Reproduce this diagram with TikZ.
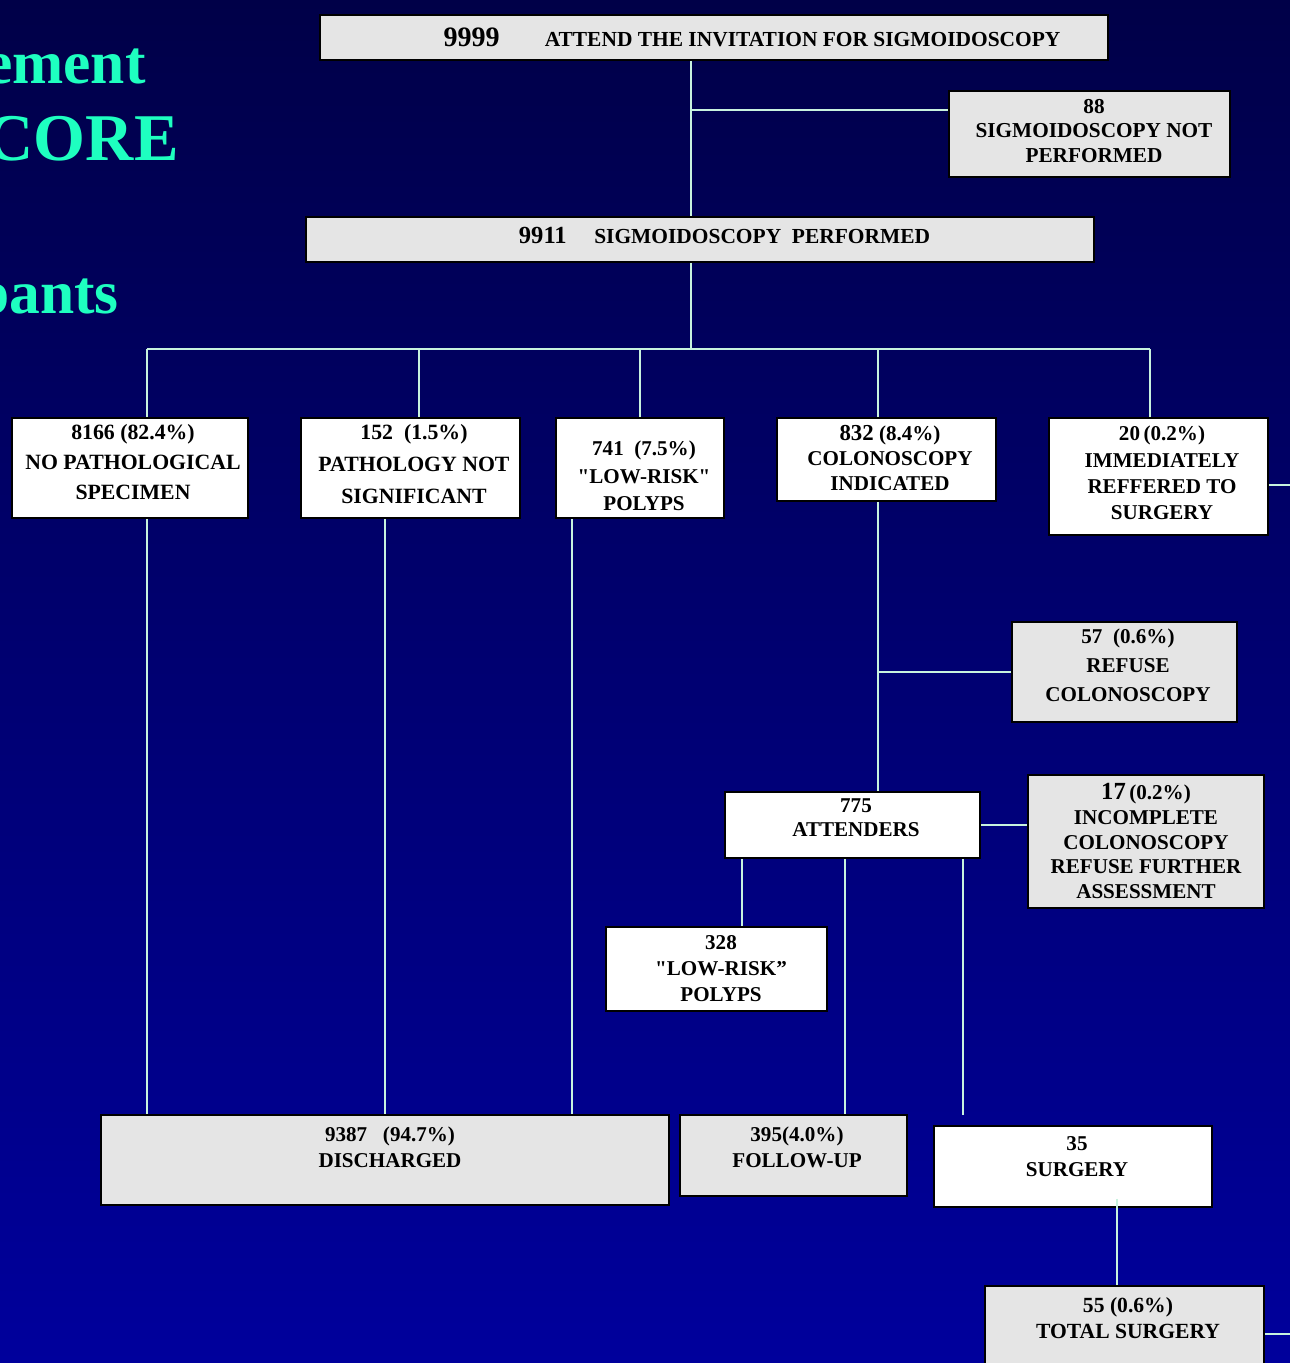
\documentclass[tikz,border=0pt]{standalone}
\usepackage{fontspec}
\setmainfont{Liberation Serif}
\font\plainq="Liberation Serif/B" at 12pt
\newcommand\sq{{\plainq"}}
\definecolor{navytop}{RGB}{0,0,72}
\definecolor{navybot}{RGB}{0,0,156}
\definecolor{boxgray}{RGB}{229,229,229}
\definecolor{linkmint}{RGB}{200,242,222}
\definecolor{titlecyan}{RGB}{30,255,192}
\usetikzlibrary{calc}
\tikzset{
  gbox/.style={rectangle,draw=black,line width=1pt,fill=boxgray,inner sep=0pt},
  wbox/.style={gbox,fill=white},
  txt/.style={align=center,inner sep=0pt,
              font=\fontsize{12}{#1}\selectfont\bfseries},
  txt/.default=15pt,
  link/.style={draw=linkmint,line width=0.9pt},
  title/.style={inner sep=0pt,anchor=base east,text=titlecyan,
                font=\fontsize{#1}{40}\selectfont\bfseries},
  title/.default=35,
}
\begin{document}
\begin{tikzpicture}[x=0.02cm,y=-0.02cm]

    % background
    \shade[top color=navytop,bottom color=navybot] (0,0) rectangle (1290,1363);
    \useasboundingbox (0,0) rectangle (1290,1363);

    % cut-off slide title
    \node[title]    (t1) at (146,83)  {ement};
    \node[title=38] (t2) at (179,160) {CORE};
    \node[title]    (t3) at (119,313) {pants};

    % boxes
    \node[gbox,minimum width=15.76cm,minimum height=0.9cm]  (att)  at (714,37.5)   {};
    \node[gbox,minimum width=5.62cm,minimum height=1.72cm]  (np)   at (1089.5,134) {};
    \node[gbox,minimum width=15.76cm,minimum height=0.9cm]  (sp)   at (700,239.5)  {};
    \node[wbox,minimum width=4.72cm,minimum height=2.0cm]   (nps)  at (130,468)    {};
    \node[wbox,minimum width=4.38cm,minimum height=2.0cm]   (pns)  at (410.5,468)  {};
    \node[wbox,minimum width=3.36cm,minimum height=2.0cm]   (lrp)  at (640,468)    {};
    \node[wbox,minimum width=4.38cm,minimum height=1.66cm]  (ci)   at (886.5,459.5) {};
    \node[wbox,minimum width=4.38cm,minimum height=2.34cm]  (irs)  at (1158.5,476.5) {};
    \node[gbox,minimum width=4.5cm,minimum height=2.0cm]    (rc)   at (1124.5,672) {};
    \node[wbox,minimum width=5.1cm,minimum height=1.32cm]   (atd)  at (852.5,825)  {};
    \node[gbox,minimum width=4.72cm,minimum height=2.66cm]  (ic)   at (1146,841.5) {};
    \node[wbox,minimum width=4.42cm,minimum height=1.68cm]  (lrp2) at (716.5,969)  {};
    \node[gbox,minimum width=11.36cm,minimum height=1.8cm]  (dis)  at (385,1160)   {};
    \node[gbox,minimum width=4.54cm,minimum height=1.62cm]  (fu)   at (793.5,1155.5) {};
    \node[wbox,minimum width=5.56cm,minimum height=1.62cm]  (sur)  at (1073,1166.5) {};
    \node[gbox,minimum width=5.58cm,minimum height=2.0cm]   (ts)   at (1124.5,1336) {};

    % box texts
    \node[txt] (att-t) at (752,37)
      {{\fontsize{16}{16}\selectfont 9999}\hspace{0.9cm}{\fontsize{12.2}{14}\selectfont ATTEND THE INVITATION FOR SIGMOIDOSCOPY}};
    \node[txt,font=\fontsize{12.1}{14}\selectfont\bfseries] (np-t) at (1094,131)
      {88\\SIGMOIDOSCOPY NOT\\PERFORMED};
    \node[txt] (sp-t) at (724.5,235)
      {{\fontsize{14}{14}\selectfont 9911}\hspace{0.55cm}{\fontsize{12.2}{14}\selectfont SIGMOIDOSCOPY\ \ PERFORMED}};
    \node[txt=17pt,font=\fontsize{12.4}{17}\selectfont\bfseries] (nps-t) at (133,462)
      {8166 (82.4\%)\\NO PATHOLOGICAL\\SPECIMEN};
    \node[txt=18pt,font=\fontsize{12.4}{18}\selectfont\bfseries] (pns-t) at (414,464)
      {152\ \ (1.5\%)\\PATHOLOGY NOT\\SIGNIFICANT};
    \node[txt=15.5pt] (lrp-t)  at (644,476)   {741\ \ (7.5\%)\\\sq LOW-RISK\sq\\POLYPS};
    \node[txt=14.5pt] (ci-t)   at (890,458)   {{\fontsize{13}{14}\selectfont 832} (8.4\%)\\COLONOSCOPY\\INDICATED};
    \node[txt=15pt]   (irs-t)  at (1162,473)  {20\,(0.2\%)\\IMMEDIATELY\\REFFERED TO\\SURGERY};
    \node[txt=16.5pt] (rc-t)   at (1128,665)  {57\ \ (0.6\%)\\REFUSE\\COLONOSCOPY};
    \node[txt=13.6pt] (atd-t)  at (856,818)   {775\\ATTENDERS};
    \node[txt=14pt]   (ic-t)   at (1146,841)  {{\fontsize{14}{14}\selectfont 17}\,(0.2\%)\\INCOMPLETE\\COLONOSCOPY\\REFUSE FURTHER\\ASSESSMENT};
    \node[txt=14.7pt] (lrp2-t) at (721,968.5) {328\\\sq LOW-RISK''\\POLYPS};
    \node[txt=14.7pt] (dis-t)  at (390,1147)  {9387\ \ \ (94.7\%)\\DISCHARGED};
    \node[txt=14.7pt] (fu-t)   at (797,1147)  {395(4.0\%)\\FOLLOW-UP};
    \node[txt=14.7pt] (sur-t)  at (1077,1157) {35\\SURGERY};
    \node[txt=15pt,font=\fontsize{12.3}{15}\selectfont\bfseries] (ts-t) at (1128,1318)
      {55 (0.6\%)\\TOTAL SURGERY};

    % connectors
    \coordinate (ja) at (691,110);
    \coordinate (jb) at (691,349);
    \draw[link] (att.south -| ja) -- (sp.north -| ja);
    \draw[link] (ja) -- (ja -| np.west);
    \draw[link] (sp.south -| jb) -- (jb);
    \draw[link] (147,349) -- (1150,349);
    \foreach \nd/\xx in {nps/147,pns/419,lrp/640,ci/878,irs/1150}
      \draw[link] (\xx,349) -- (\xx,0 |- \nd.north);
    \foreach \nd/\xx in {nps/147,pns/385,lrp/572}
      \draw[link] (\xx,0 |- \nd.south) -- (\xx,0 |- dis.north);

    % colonoscopy branch
    \coordinate (jc) at (878,672);
    \draw[link] (878,0 |- ci.south) -- (878,0 |- atd.north);
    \draw[link] (jc) -- (jc -| rc.west);
    \draw[link] (atd.east) -- (atd.east -| ic.west);
    \draw[link] (742,0 |- atd.south) -- (742,0 |- lrp2.north);
    \draw[link] (845,0 |- atd.south) -- (845,0 |- fu.north);
    \draw[link] (963,0 |- atd.south) -- ([yshift=0.2cm]963,0 |- sur.north);
    \draw[link] ([yshift=0.18cm]1117,0 |- sur.south) -- (1117,0 |- ts.north);

    % stubs leaving the slide
    \draw[link] (irs.east |- 0,485) -- (1300,485);
    \draw[link] (ts.east |- 0,1334) -- (1300,1334);

\end{tikzpicture}
\end{document}
